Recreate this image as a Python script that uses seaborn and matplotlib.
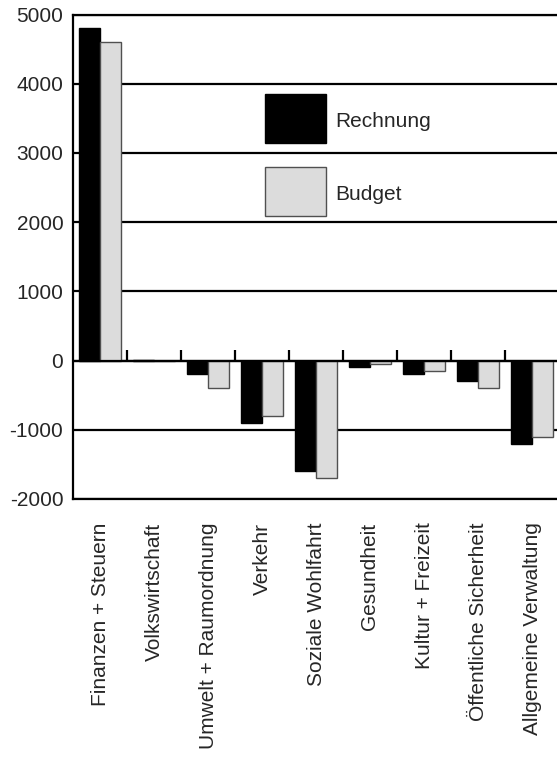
import numpy as np
import pandas as pd
import matplotlib
matplotlib.use("Agg")
import matplotlib.pyplot as plt
from matplotlib.patches import Patch, Rectangle
from matplotlib.legend_handler import HandlerPatch
import seaborn as sns

categories = ["Finanzen + Steuern", "Volkswirtschaft", "Umwelt + Raumordnung",
              "Verkehr", "Soziale Wohlfahrt", "Gesundheit", "Kultur + Freizeit",
              "Öffentliche Sicherheit", "Allgemeine Verwaltung"]
rechnung = [4800, 15, -200, -900, -1600, -100, -200, -300, -1200]
budget = [4600, 0, -400, -800, -1700, -50, -150, -400, -1100]
series = ["Rechnung", "Budget"]
yticks = [-2000, -1000, 0, 1000, 2000, 3000, 4000, 5000]

df = pd.DataFrame({
    "Bereich": categories * 2,
    "Wert": rechnung + budget,
    "Serie": ["Rechnung"] * len(categories) + ["Budget"] * len(categories),
})

sns.set_style("white")
plt.rcParams["font.family"] = ["Liberation Sans", "DejaVu Sans"]
plt.rcParams["font.size"] = 15

fill = {"Rechnung": "black", "Budget": "#dcdcdc"}
edge = {"Rechnung": "black", "Budget": "#505050"}

fig = plt.figure(figsize=(5.57, 7.58), dpi=100)
ax = fig.add_axes([73 / 557, 259 / 758, 486 / 557, 484.5 / 758])

sns.barplot(data=df, x="Bereich", y="Wert", hue="Serie", hue_order=series,
            palette=fill, width=0.76, ax=ax, legend=False, saturation=1)
for cont, s in zip(ax.containers, series):
    for p in cont.patches:
        p.set_edgecolor(edge[s])
        p.set_linewidth(1.0)

ax.set_ylim(-2000, 5000)
ax.set_xlim(-0.5, len(categories) - 0.5)
ax.set_yticks(yticks)
ax.set_yticklabels([str(v) for v in yticks])
ax.set_axisbelow(True)
ax.yaxis.grid(True, color="black", linewidth=1.6)
ax.xaxis.grid(False)
ax.axhline(0, color="black", linewidth=1.6, zorder=1)

# kleine Trennstriche an der Nulllinie
ax.vlines(np.arange(len(categories) - 1) + 0.5, 0, 150, color="black", linewidth=1.6)

for side in ["left", "bottom", "top"]:
    ax.spines[side].set_color("black")
    ax.spines[side].set_linewidth(1.6)
ax.spines["right"].set_visible(False)

ax.tick_params(axis="y", length=0, pad=7, labelsize=15)
ax.tick_params(axis="x", length=0, pad=17, labelsize=15)
ax.set_xticks(range(len(categories)))
ax.set_xticklabels(categories, rotation=90, va="top", ha="center")
ax.set_xlabel("")
ax.set_ylabel("")


# hohe Legendenkaestchen, Text etwa mittig
def tall_box(legend, orig_handle, xdescent, ydescent, width, height, fontsize):
    return Rectangle((-xdescent, -ydescent), width, 35.3)


handles = [Patch(facecolor=fill[s], edgecolor=edge[s], linewidth=1.0) for s in series]
ax.legend(handles, series, loc="upper left", bbox_to_anchor=(265 / 557, 1 - 99 / 758),
          bbox_transform=fig.transFigure, frameon=False, borderpad=0,
          handlelength=2.95, handleheight=2.89, labelspacing=1.38,
          handletextpad=0.4, fontsize=15, borderaxespad=0,
          handler_map={Patch: HandlerPatch(patch_func=tall_box)})

fig.savefig("out.png", dpi=100)
plt.close()
